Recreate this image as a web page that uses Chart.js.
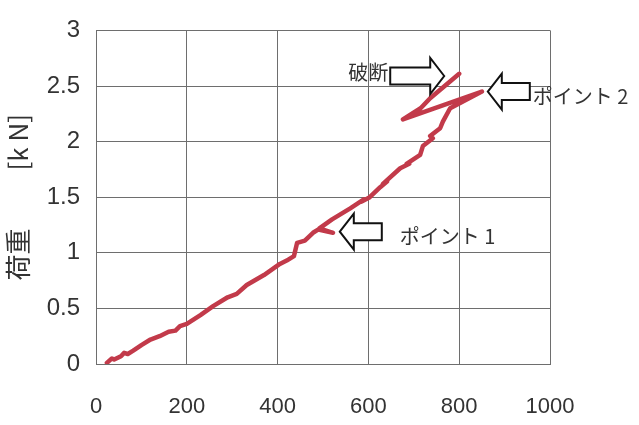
<!DOCTYPE html>
<html>
<head>
<meta charset="utf-8">
<script src="https://cdn.jsdelivr.net/npm/chart.js@4/dist/chart.umd.min.js"></script>
<style>
  html, body { margin: 0; padding: 0; background: #fff; }
  #wrap { width: 639px; height: 425px; }
</style>
</head>
<body>
<div id="wrap"><canvas id="myChart" width="639" height="425"></canvas></div>
<script>
document.addEventListener("DOMContentLoaded", function () {

        // displacement (x) and load [kN] (y)
        const disp = [24, 35, 40, 55, 62, 70, 82, 100, 120, 140, 160, 175, 185, 200, 230, 258, 290, 310, 332, 370,
            405, 420, 436, 443, 460, 478, 490, 522, 492, 520, 560, 590, 585, 603, 626, 641, 632, 670, 690, 684,
            714, 720, 742, 736, 758, 764, 780, 850, 676, 715, 736, 800];
        const load = [0.01, 0.05, 0.04, 0.07, 0.10, 0.09, 0.12, 0.17, 0.22, 0.25, 0.29, 0.30, 0.34, 0.36, 0.44, 0.52, 0.60, 0.63, 0.71, 0.80,
            0.90, 0.93, 0.97, 1.09, 1.11, 1.18, 1.21, 1.18, 1.22, 1.30, 1.40, 1.48, 1.46, 1.50, 1.59, 1.64, 1.62, 1.76, 1.80, 1.80,
            1.88, 1.96, 2.03, 2.05, 2.12, 2.18, 2.30, 2.45, 2.20, 2.30, 2.39, 2.61];

        const xTicks = [0, 200, 400, 600, 800, 1000];
        const yTicks = [0, 0.5, 1, 1.5, 2, 2.5, 3];

        // callouts: label, arrow tip (data units), arrow direction
        const noteLabels = ['破断', 'ポイント 2', 'ポイント 1'];
        const noteX = [767, 863, 537];
        const noteY = [2.59, 2.45, 1.19];
        const noteDir = ['right', 'left', 'left'];

        const points = disp.map(function (d, i) {
            return {x: d, y: load[i]};
        });

        const numFont = "'Liberation Sans', Arial, sans-serif";
        const jpFont = "'Noto Sans CJK JP', sans-serif";

        // block arrows with text, drawn on top of the line
        const notesPlugin = {
            id: 'notes',
            afterDatasetsDraw: function (chart) {
                const ctx = chart.ctx;
                const xs = chart.scales.x;
                const ys = chart.scales.y;
                ctx.save();
                ctx.font = "20px " + jpFont;
                ctx.textBaseline = 'middle';
                noteLabels.forEach(function (txt, i) {
                    const tx = xs.getPixelForValue(noteX[i]);
                    const ty = ys.getPixelForValue(noteY[i]);
                    const s = noteDir[i] === 'right' ? -1 : 1;
                    const headLen = 14, headH = 18, shaftLen = i === 0 ? 40 : 28, shaftH = 8.5;
                    ctx.beginPath();
                    ctx.moveTo(tx, ty);
                    ctx.lineTo(tx + s * headLen, ty - headH);
                    ctx.lineTo(tx + s * headLen, ty - shaftH);
                    ctx.lineTo(tx + s * (headLen + shaftLen), ty - shaftH);
                    ctx.lineTo(tx + s * (headLen + shaftLen), ty + shaftH);
                    ctx.lineTo(tx + s * headLen, ty + shaftH);
                    ctx.lineTo(tx + s * headLen, ty + headH);
                    ctx.closePath();
                    ctx.fillStyle = '#ffffff';
                    ctx.fill();
                    ctx.lineWidth = 2;
                    ctx.strokeStyle = '#111111';
                    ctx.stroke();

                    ctx.fillStyle = '#333333';
                    if (s < 0) {
                        ctx.textAlign = 'right';
                        ctx.fillText(txt, tx - headLen - shaftLen - 2, ty - 4);
                    } else {
                        ctx.textAlign = 'left';
                        ctx.fillText(txt, tx + headLen + shaftLen + (i === 2 ? 18 : 3), ty + 5);
                    }
                });
                ctx.restore();
            }
        };

        const data = {
            datasets: [{
                label: '荷重',
                data: points,
                showLine: true,
                borderColor: '#c23a4a',
                backgroundColor: '#c23a4a',
                borderWidth: 4.5,
                borderJoinStyle: 'round',
                borderCapStyle: 'round',
                pointRadius: 0,
                tension: 0
            }]
        };

        const config = {
            type: 'scatter',
            data: data,
            options: {
                responsive: false,
                animation: false,
                layout: {
                    padding: {left: 0, top: 22, right: 89, bottom: 0}
                },
                plugins: {
                    legend: {display: false},
                    tooltip: {enabled: false}
                },
                scales: {
                    x: {
                        type: 'linear',
                        min: 0,
                        max: 1000,
                        afterBuildTicks: function (axis) {
                            axis.ticks = xTicks.map(function (v) { return {value: v}; });
                        },
                        afterFit: function (axis) { axis.height = 61; },
                        grid: {color: '#6e6e6e', lineWidth: 1, drawTicks: false},
                        border: {color: '#6e6e6e', width: 1},
                        ticks: {
                            color: '#333333',
                            padding: 30,
                            maxRotation: 0,
                            callback: function (v) { return String(v); },
                            font: {family: numFont, size: 22}
                        }
                    },
                    y: {
                        type: 'linear',
                        min: 0,
                        max: 3,
                        afterBuildTicks: function (axis) {
                            axis.ticks = yTicks.map(function (v) { return {value: v}; });
                        },
                        afterFit: function (axis) { axis.width = 96; },
                        grid: {color: '#6e6e6e', lineWidth: 1, drawTicks: false},
                        border: {color: '#6e6e6e', width: 1},
                        ticks: {
                            color: '#333333',
                            padding: 16,
                            callback: function (v) { return String(v); },
                            font: {family: numFont, size: 24}
                        },
                        title: {
                            display: true,
                            text: '荷重\u3000\u3000 [k N]',
                            color: '#333333',
                            padding: {top: 3, bottom: 0},
                            font: {family: jpFont, size: 26}
                        }
                    }
                }
            },
            plugins: [notesPlugin]
        };

        const myChart = new Chart(
            document.getElementById('myChart'),
            config
        );
    }
);
</script>
</body>
</html>
